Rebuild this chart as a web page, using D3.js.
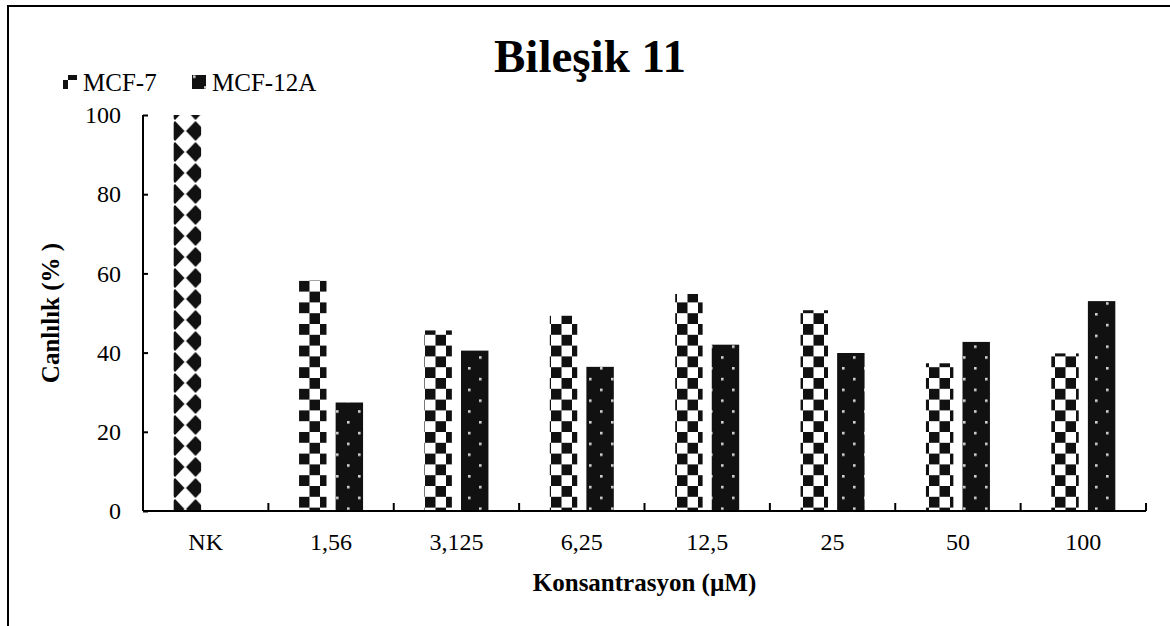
<!DOCTYPE html>
<html>
<head>
<meta charset="utf-8">
<script src="https://cdn.jsdelivr.net/npm/d3@7"></script>
<style>
  body { margin: 0; background: #fff; }
  svg text { font-family: "Liberation Serif", "Times New Roman", serif; fill: #000; }
</style>
</head>
<body>
<svg id="chart" width="1170" height="626"></svg>
<script>
// Chart data
const categories = ['NK', '1,56', '3,125', '6,25', '12,5', '25', '50', '100'];
const seriesNames = ['MCF-7', 'MCF-12A'];
const mcf7Values = [100, 58.2, 45.6, 49.3, 54.8, 50.7, 37.3, 39.8];
const mcf12aValues = [0, 27.4, 40.5, 36.4, 42.0, 39.9, 42.7, 53.0];
const yTicks = [0, 20, 40, 60, 80, 100];

const svg = d3.select('#chart');
const margin = { left: 143, right: 1146, top: 115, bottom: 511 };

// outer frame (only top/left visible in the picture)
svg.append('rect')
    .attr('x', 8).attr('y', 6)
    .attr('width', 1200).attr('height', 700)
    .attr('fill', 'none').attr('stroke', '#000').attr('stroke-width', 2);

// patterns
const defs = svg.append('defs');

// checkerboard for MCF-7
const check = defs.append('pattern')
    .attr('id', 'check')
    .attr('patternUnits', 'userSpaceOnUse')
    .attr('x', 299).attr('y', 0)
    .attr('width', 21).attr('height', 21.6);
check.append('rect').attr('width', 21).attr('height', 21.6).attr('fill', '#fff');
check.append('rect').attr('x', 0).attr('y', 0).attr('width', 10.5).attr('height', 10.8).attr('fill', '#111');
check.append('rect').attr('x', 10.5).attr('y', 10.8).attr('width', 10.5).attr('height', 10.8).attr('fill', '#111');

// diamonds for the NK point
const diamond = defs.append('pattern')
    .attr('id', 'diamond')
    .attr('patternUnits', 'userSpaceOnUse')
    .attr('x', 175).attr('y', 110)
    .attr('width', 20.5).attr('height', 21);
diamond.append('rect').attr('width', 20.5).attr('height', 21).attr('fill', '#fff');
[[0, 0], [20.5, 0], [0, 21], [20.5, 21]].forEach(([cx, cy]) => {
    diamond.append('path')
        .attr('d', `M${cx},${cy - 10} L${cx + 9.5},${cy} L${cx},${cy + 10} L${cx - 9.5},${cy} Z`)
        .attr('fill', '#111');
});

// dotted black for MCF-12A
const dots = defs.append('pattern')
    .attr('id', 'dots')
    .attr('patternUnits', 'userSpaceOnUse')
    .attr('x', 468).attr('y', 367)
    .attr('width', 22).attr('height', 21.6);
dots.append('rect').attr('width', 22).attr('height', 21.6).attr('fill', '#111');
dots.append('rect').attr('x', 0).attr('y', 0).attr('width', 2.6).attr('height', 2.6).attr('fill', '#d0d0d0');
dots.append('rect').attr('x', 11).attr('y', 10.8).attr('width', 2.6).attr('height', 2.6).attr('fill', '#d0d0d0');

// legend checker piece
const checkLeg = defs.append('pattern')
    .attr('id', 'checkLeg')
    .attr('patternUnits', 'userSpaceOnUse')
    .attr('x', 58).attr('y', 70)
    .attr('width', 20).attr('height', 20);
checkLeg.append('rect').attr('width', 20).attr('height', 20).attr('fill', '#fff');
checkLeg.append('rect').attr('x', 10).attr('y', 0).attr('width', 10).attr('height', 10).attr('fill', '#111');
checkLeg.append('rect').attr('x', 0).attr('y', 10).attr('width', 10).attr('height', 10).attr('fill', '#111');

// scales
const x0 = d3.scaleBand()
    .domain(categories)
    .range([margin.left, margin.right])
    .paddingInner(0).paddingOuter(0);

const groupWidth = 64;
const x1 = d3.scaleBand()
    .domain(seriesNames)
    .range([0, groupWidth])
    .paddingInner(0.25);

const y = d3.scaleLinear()
    .domain([0, 100])
    .range([margin.bottom, margin.top]);

// bars
const barData = [];
categories.forEach((c, i) => {
    barData.push({ cat: c, series: 'MCF-7', value: mcf7Values[i] });
    barData.push({ cat: c, series: 'MCF-12A', value: mcf12aValues[i] });
});

svg.append('g')
    .selectAll('rect')
    .data(barData.filter(d => d.value > 0))
    .join('rect')
    .attr('x', d => x0(d.cat) + (x0.bandwidth() - groupWidth) / 2 + x1(d.series))
    .attr('y', d => y(d.value))
    .attr('width', x1.bandwidth())
    .attr('height', d => y(0) - y(d.value))
    .attr('fill', d => d.series === 'MCF-12A' ? 'url(#dots)' : (d.cat === 'NK' ? 'url(#diamond)' : 'url(#check)'));

// y axis
const yAxis = svg.append('g')
    .attr('transform', `translate(${margin.left},0)`)
    .call(d3.axisLeft(y).tickValues(yTicks).tickSize(-5).tickPadding(22).tickFormat(d3.format('d')));
yAxis.attr('font-family', null);
yAxis.select('.domain').attr('stroke-width', 2).attr('d', `M0,${margin.top}V${margin.bottom}`);
yAxis.selectAll('.tick line').attr('stroke-width', 2);
yAxis.selectAll('text').attr('font-size', 24);

// x axis
const xAxis = svg.append('g')
    .attr('transform', `translate(0,${margin.bottom})`)
    .call(d3.axisBottom(x0).tickSize(0).tickPadding(22));
xAxis.attr('font-family', null);
xAxis.select('.domain').attr('stroke-width', 2).attr('d', `M${margin.left},0H${margin.right}`);
xAxis.selectAll('text').attr('font-size', 24);

// category boundary ticks
svg.append('g')
    .selectAll('line')
    .data(categories.slice(1).concat(['end']))
    .join('line')
    .attr('x1', d => d === 'end' ? margin.right : x0(d))
    .attr('x2', d => d === 'end' ? margin.right : x0(d))
    .attr('y1', margin.bottom)
    .attr('y2', margin.bottom - 8)
    .attr('stroke', '#000').attr('stroke-width', 2);

// titles
svg.append('text')
    .attr('x', 590).attr('y', 72)
    .attr('text-anchor', 'middle')
    .attr('font-size', 47).attr('font-weight', 'bold')
    .text('Bileşik 11');

svg.append('text')
    .attr('x', (margin.left + margin.right) / 2).attr('y', 591)
    .attr('text-anchor', 'middle')
    .attr('font-size', 25).attr('font-weight', 'bold')
    .text('Konsantrasyon (µM)');

svg.append('text')
    .attr('transform', `translate(59,${(margin.top + margin.bottom) / 2}) rotate(-90)`)
    .attr('text-anchor', 'middle')
    .attr('font-size', 25).attr('font-weight', 'bold')
    .text('Canlılık (% )');

// legend
const legend = svg.append('g');
const legendItems = [
    { name: 'MCF-7', x: 63, fill: 'url(#checkLeg)' },
    { name: 'MCF-12A', x: 192, fill: 'url(#dots)' }
];
legendItems.forEach(it => {
    legend.append('rect')
        .attr('x', it.x).attr('y', 75)
        .attr('width', 14).attr('height', 14)
        .attr('fill', it.fill);
    legend.append('text')
        .attr('x', it.x + 20).attr('y', 91)
        .attr('font-size', 25)
        .text(it.name);
});
</script>
</body>
</html>
